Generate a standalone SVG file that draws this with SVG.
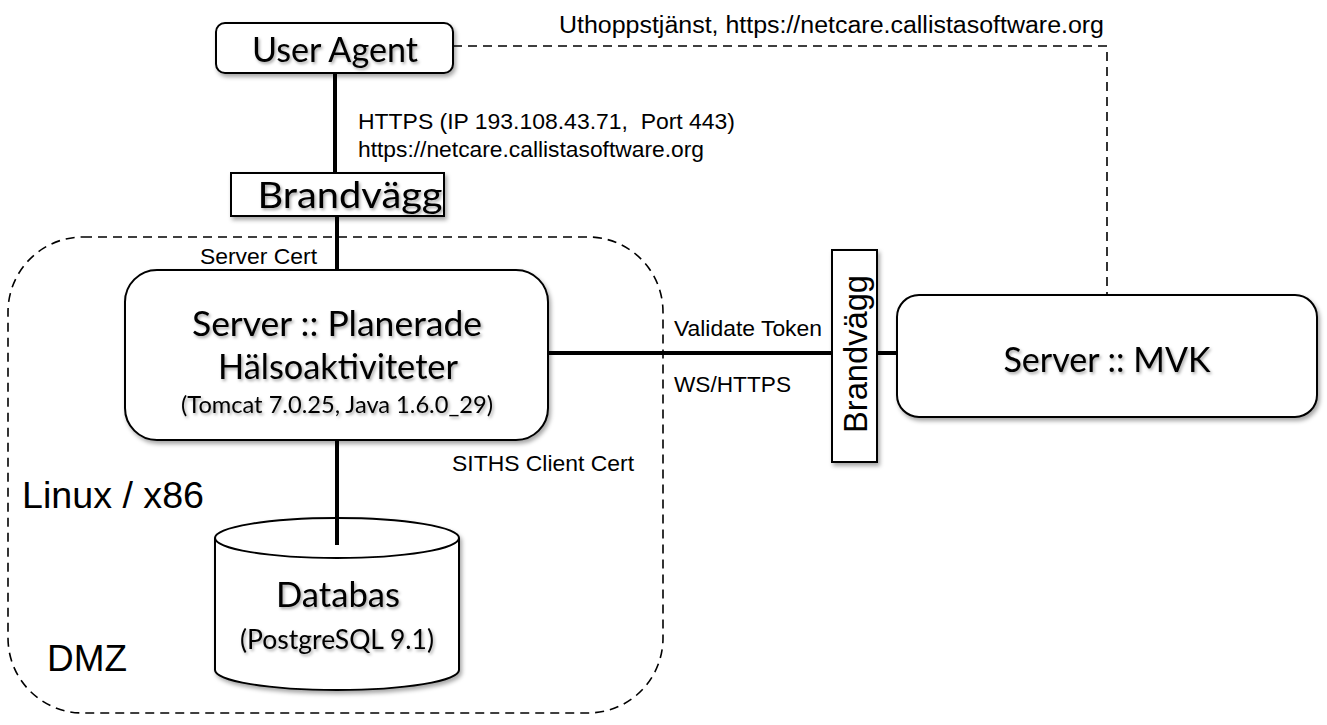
<svg xmlns="http://www.w3.org/2000/svg" width="1327" height="725" viewBox="0 0 1327 725">
<defs>
<filter id="sh" x="-10%" y="-10%" width="130%" height="140%">
<feDropShadow dx="2" dy="3" stdDeviation="2" flood-color="#000" flood-opacity="0.35"/>
</filter>
<filter id="tsh" x="-5%" y="-20%" width="115%" height="160%">
<feDropShadow dx="1.5" dy="2" stdDeviation="1.5" flood-color="#000" flood-opacity="0.35"/>
</filter>
</defs>
<style>
.box{fill:#fff;stroke:#000;stroke-width:2}
.lbl{font-family:Lato,"Open Sans",sans-serif;fill:#000;text-anchor:middle}
.big{font-size:34px}
.sm{font-size:24px}
.note{font-family:"Liberation Sans",Arial,sans-serif;font-size:22px;fill:#000}
.line{stroke:#000;stroke-width:4;fill:none}
.dash{stroke:#000;stroke-width:1.6;fill:none;stroke-dasharray:9 6}
</style>
<rect width="1327" height="725" fill="#fff"/>
<g id="dmz">
<rect x="8" y="237" width="655" height="476" rx="75" ry="75" class="dash" stroke-dasharray="7 5"/>
<text x="22" y="508" class="note" style="font-size:37px" textLength="182" lengthAdjust="spacingAndGlyphs">Linux / x86</text>
<text x="47" y="671" class="note" style="font-size:37px" textLength="80" lengthAdjust="spacingAndGlyphs">DMZ</text>
</g>
<g id="connectors">
<line x1="335" y1="73" x2="335" y2="173" class="line"/>
<line x1="337" y1="216" x2="337" y2="270" class="line"/>
<line x1="337" y1="440" x2="337" y2="545" class="line"/>
<line x1="548" y1="353" x2="832" y2="353" class="line"/>
<line x1="877" y1="353" x2="897" y2="353" class="line"/>
<polyline points="453,46 1107,46 1107,295" class="dash"/>
<text x="559" y="33" class="note" style="font-size:23px" textLength="545" lengthAdjust="spacingAndGlyphs">Uthoppstjänst, https://netcare.callistasoftware.org</text>
<text x="358" y="129" class="note" xml:space="preserve" textLength="377" lengthAdjust="spacingAndGlyphs">HTTPS (IP 193.108.43.71,  Port 443)</text>
<text x="358" y="157" class="note" textLength="346" lengthAdjust="spacingAndGlyphs">https://netcare.callistasoftware.org</text>
<text x="200" y="264" class="note" textLength="117" lengthAdjust="spacingAndGlyphs">Server Cert</text>
<text x="452" y="471" class="note" textLength="182" lengthAdjust="spacingAndGlyphs">SITHS Client Cert</text>
<text x="674" y="336" class="note" textLength="148" lengthAdjust="spacingAndGlyphs">Validate Token</text>
<text x="674" y="392" class="note" textLength="117" lengthAdjust="spacingAndGlyphs">WS/HTTPS</text>
</g>
<g id="user-agent">
<rect x="216" y="23" width="237" height="50" rx="9" class="box" filter="url(#sh)"/>
<text x="335" y="62" class="lbl big" textLength="166" lengthAdjust="spacingAndGlyphs" filter="url(#tsh)">User Agent</text>
</g>
<g id="brandvagg1">
<rect x="231" y="173" width="213" height="43" class="box" filter="url(#sh)"/>
<text x="350" y="208" class="lbl big" style="font-size:37px" textLength="185" lengthAdjust="spacingAndGlyphs" filter="url(#tsh)">Brandvägg</text>
</g>
<g id="server-pha">
<rect x="125" y="270" width="423" height="170" rx="32" class="box" filter="url(#sh)"/>
<text x="337" y="336" class="lbl big" textLength="290" lengthAdjust="spacingAndGlyphs" filter="url(#tsh)">Server :: Planerade</text>
<text x="338" y="379" class="lbl big" textLength="240" lengthAdjust="spacingAndGlyphs" filter="url(#tsh)">Hälsoaktiviteter</text>
<text x="337" y="413" class="lbl sm" textLength="312" lengthAdjust="spacingAndGlyphs" filter="url(#tsh)">(Tomcat 7.0.25, Java 1.6.0_29)</text>
</g>
<g id="databas" filter="url(#sh)">
<path d="M215,538 A122,20 0 0 1 459,538 L459,670 A122,20 0 0 1 215,670 Z" class="box"/>
<path d="M215,538 A122,20 0 0 0 459,538" class="box" fill="none"/>
<line x1="337" y1="518" x2="337" y2="545" class="line"/>
<text x="338" y="607" class="lbl big" textLength="124" lengthAdjust="spacingAndGlyphs" filter="url(#tsh)">Databas</text>
<text x="337" y="649" class="lbl sm" style="font-size:26px" textLength="194" lengthAdjust="spacingAndGlyphs" filter="url(#tsh)">(PostgreSQL 9.1)</text>
</g>
<g id="brandvagg2">
<rect x="832" y="250" width="45" height="212" class="box" filter="url(#sh)"/>
<text transform="translate(867,354) rotate(-90)" class="note" style="font-size:33px;text-anchor:middle" textLength="158" lengthAdjust="spacingAndGlyphs">Brandvägg</text>
</g>
<g id="server-mvk">
<rect x="897" y="295" width="420" height="122" rx="22" class="box" filter="url(#sh)"/>
<text x="1107" y="372" class="lbl big" style="font-size:34px" textLength="207" lengthAdjust="spacingAndGlyphs" filter="url(#tsh)">Server :: MVK</text>
</g>
</svg>
